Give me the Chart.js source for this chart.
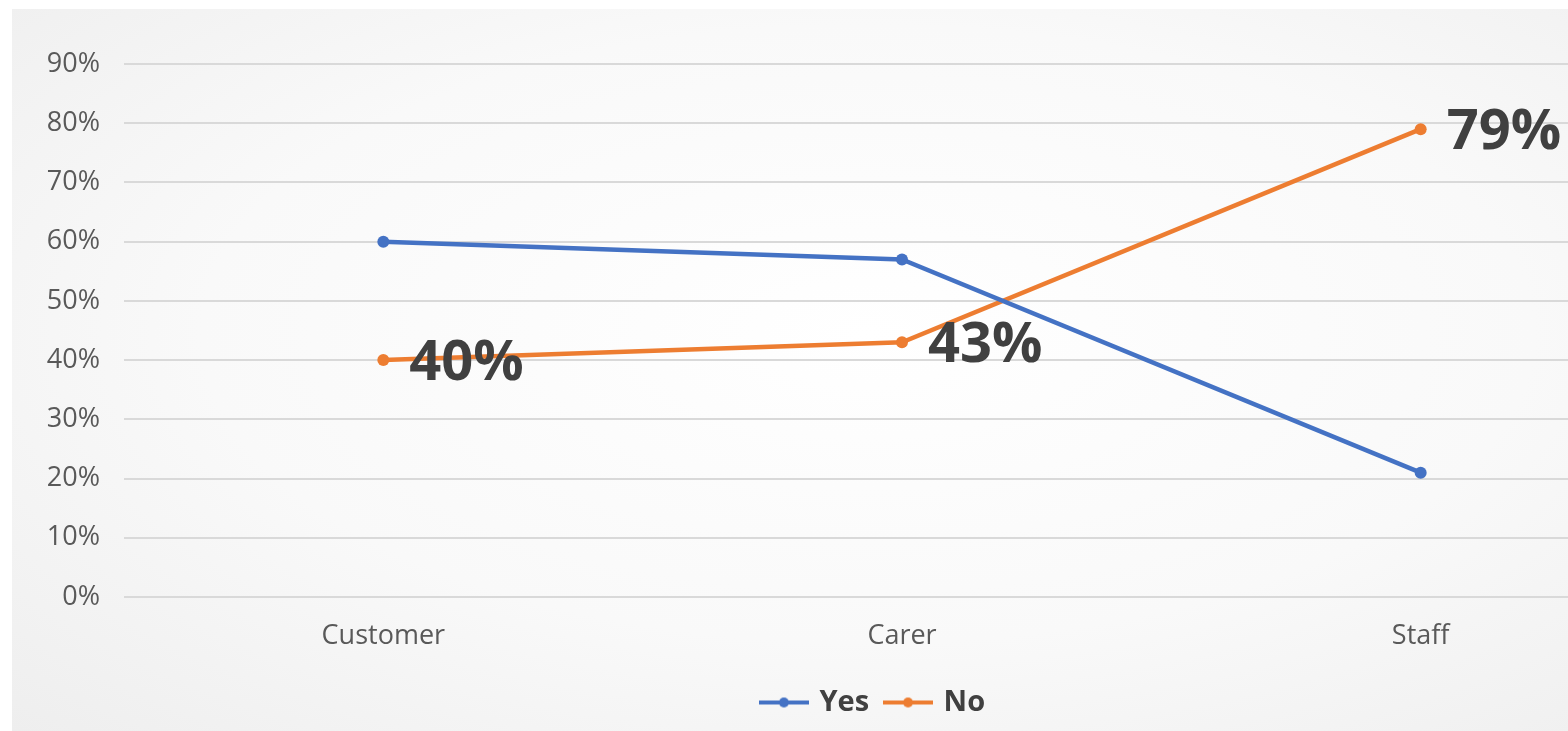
<!DOCTYPE html>
<html>
<head>
<meta charset="utf-8">
<script src="https://cdn.jsdelivr.net/npm/chart.js@4/dist/chart.umd.min.js"></script>
<style>
   html, body {
      margin: 0;
      padding: 0;
      background: #ffffff;
      width: 1568px;
      height: 731px;
      overflow: hidden;
   }
   #panel {
      position: absolute;
      left: 12px;
      top: 9px;
      width: 1556px;
      height: 722px;
      overflow: hidden;
      background: radial-gradient(ellipse at 55% 45%, #ffffff 0%, #f9f9f9 55%, #eeeeee 100%);
   }
</style>
</head>
<body>
<div id="panel">
   <canvas id="answerChart" width="1726" height="722"></canvas>
</div>
<script>
let groups = ["Customer", "Carer", "Staff"];
let yesArr = [60, 57, 21];
let noArr = [40, 43, 79];
let yTicks = [0, 10, 20, 30, 40, 50, 60, 70, 80, 90];

const blue = "#4472c4";
const orange = "#ed7d31";

// legend marker: short line with a dot in the middle
function lineMarker(color) {
   const c = document.createElement("canvas");
   c.width = 50;
   c.height = 14;
   const g = c.getContext("2d");
   g.strokeStyle = color;
   g.lineWidth = 4;
   g.beginPath();
   g.moveTo(0, 7);
   g.lineTo(50, 7);
   g.stroke();
   g.fillStyle = color;
   g.beginPath();
   g.arc(25, 7, 5, 0, Math.PI * 2);
   g.fill();
   return c;
}

// big value labels next to the "No" points
const noLabels = {
   id: "noLabels",
   afterLayout(chart) {
      // the picture is cropped on the right, so centre the legend on the visible part
      chart.legend.left += 28;
      chart.legend.right += 28;
   },
   afterDatasetsDraw(chart) {
      const meta = chart.getDatasetMeta(1);
      const ctx = chart.ctx;
      ctx.save();
      ctx.font = "bold 56px 'Open Sans'";
      ctx.fillStyle = "#404040";
      ctx.textAlign = "left";
      ctx.textBaseline = "middle";
      meta.data.forEach((pt, i) => {
         ctx.fillText(noArr[i] + "%", pt.x + 26, pt.y + 4);
      });
      ctx.restore();
   },
};

const ctx = document.getElementById("answerChart").getContext("2d");
const myChart = new Chart(ctx, {
   type: "line",
   data: {
      labels: groups,
      datasets: [
         {
            label: "Yes",
            data: yesArr,
            borderColor: blue,
            backgroundColor: blue,
            borderWidth: 4.5,
            pointRadius: 6,
            pointBorderWidth: 0,
            tension: 0,
         },
         {
            label: "No",
            data: noArr,
            borderColor: orange,
            backgroundColor: orange,
            borderWidth: 4.5,
            pointRadius: 6,
            pointBorderWidth: 0,
            tension: 0,
         },
      ],
   },
   options: {
      responsive: false,
      animation: false,
      layout: {
         padding: {top: 55, right: 58, bottom: 4, left: 0},
      },
      scales: {
         x: {
            offset: true,
            grid: {display: false},
            border: {display: false},
            ticks: {
               color: "#595959",
               padding: 15,
               font: {family: "'Open Sans'", size: 27},
            },
            afterFit: (scale) => {
               scale.height = 73;
            },
         },
         y: {
            min: 0,
            max: 90,
            afterBuildTicks: (scale) => {
               scale.ticks = yTicks.map((v) => ({value: v}));
            },
            afterFit: (scale) => {
               scale.width = 112;
            },
            grid: {color: "#d9d9d9", lineWidth: 2, drawTicks: false},
            border: {display: false},
            ticks: {
               color: "#595959",
               padding: 24,
               font: {family: "'Open Sans'", size: 27},
               callback: (v) => v + "%",
            },
         },
      },
      plugins: {
         tooltip: {enabled: false},
         legend: {
            display: true,
            position: "bottom",
            labels: {
               color: "#404040",
               usePointStyle: true,
               pointStyleWidth: 42,
               padding: 18,
               font: {family: "'Open Sans'", size: 29, weight: "bold"},
               generateLabels: (chart) =>
                  chart.data.datasets.map((ds, i) => ({
                     text: ds.label,
                     pointStyle: lineMarker(ds.borderColor),
                     fillStyle: ds.borderColor,
                     strokeStyle: ds.borderColor,
                     lineWidth: 0,
                     fontColor: "#404040",
                     datasetIndex: i,
                  })),
            },
         },
      },
   },
   plugins: [noLabels],
});
</script>
</body>
</html>
